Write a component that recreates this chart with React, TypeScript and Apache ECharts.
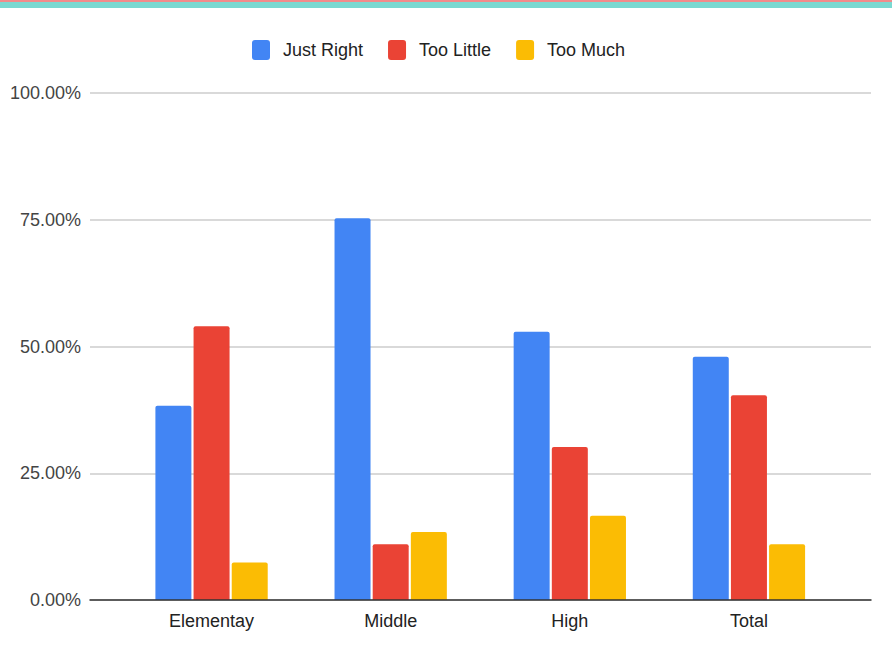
import React, { useEffect, useRef } from "react";
import * as echarts from "echarts";

const categories = ["Elementay", "Middle", "High", "Total"];
const justRight = [38.3, 75.3, 52.9, 48.0];
const tooLittle = [54.0, 11.0, 30.2, 40.4];
const tooMuch = [7.4, 13.4, 16.6, 11.0];
const seriesNames = ["Just Right", "Too Little", "Too Much"];
const colors = ["#4285F4", "#EA4335", "#FBBC04"];
const yTicks = [0, 25, 50, 75, 100];

export default function App() {
  const ref = useRef<HTMLDivElement>(null);
  useEffect(() => {
    if (!ref.current) return;
    const chart = echarts.init(ref.current, null, { renderer: "svg" });
    const font = "'Liberation Sans', Arial, sans-serif";
    const values = [justRight, tooLittle, tooMuch];
    chart.setOption({
      animation: false,
      backgroundColor: "#ffffff",
      textStyle: { fontFamily: font },
      graphic: [
        { type: "rect", shape: { x: 0, y: 0, width: 892, height: 2 }, style: { fill: "#F28B8B" } },
        { type: "rect", shape: { x: 0, y: 2, width: 892, height: 6 }, style: { fill: "#7AD9D1" } },
      ],
      legend: {
        top: 35,
        left: 247,
        icon: "path://M3,0 H15 Q18,0 18,3 V17 Q18,20 15,20 H3 Q0,20 0,17 V3 Q0,0 3,0 Z",
        itemWidth: 18,
        itemHeight: 20,
        itemGap: 25,
        data: seriesNames,
        textStyle: { fontSize: 18, color: "#222", fontFamily: font, padding: [0, 0, 0, 8] },
      },
      grid: [
        { left: 90, right: 21, top: 93, bottom: 65 },
        { left: 122, right: 53.5, top: 93, bottom: 65 },
      ],
      xAxis: [
        {
          gridIndex: 0,
          type: "value",
          min: 0,
          max: 1,
          axisLabel: { show: false },
          axisTick: { show: false },
          splitLine: { show: false },
          axisLine: { show: true, lineStyle: { color: "#333", width: 1.5 } },
          z: 5,
        },
        {
          gridIndex: 1,
          type: "category",
          data: categories,
          axisLine: { show: false },
          axisTick: { show: false },
          axisLabel: { fontSize: 18, color: "#222", margin: 12, fontFamily: font },
        },
      ],
      yAxis: [
        {
          gridIndex: 0,
          type: "value",
          min: 0,
          max: 100,
          interval: 25,
          axisLine: { show: false },
          axisTick: { show: false },
          axisLabel: {
            fontSize: 18,
            color: "#444",
            margin: 9,
            fontFamily: font,
            formatter: (v: number) => (yTicks.includes(v) ? v.toFixed(2) + "%" : ""),
          },
          splitLine: { show: true, lineStyle: { color: "#cccccc", width: 1.5 } },
        },
        {
          gridIndex: 1,
          type: "value",
          min: 0,
          max: 100,
          interval: 25,
          show: false,
          splitLine: { show: false },
        },
      ],
      series: seriesNames.map((name, i) => ({
        name,
        type: "bar",
        xAxisIndex: 1,
        yAxisIndex: 1,
        data: values[i],
        barWidth: 36,
        barGap: "6%",
        itemStyle: { color: colors[i], borderRadius: [2, 2, 0, 0] },
        z: 3,
      })),
    });
    return () => chart.dispose();
  }, []);
  return (
    <div
      ref={ref}
      style={{ position: "absolute", left: 0, top: 0, width: 892, height: 665 }}
    />
  );
}
